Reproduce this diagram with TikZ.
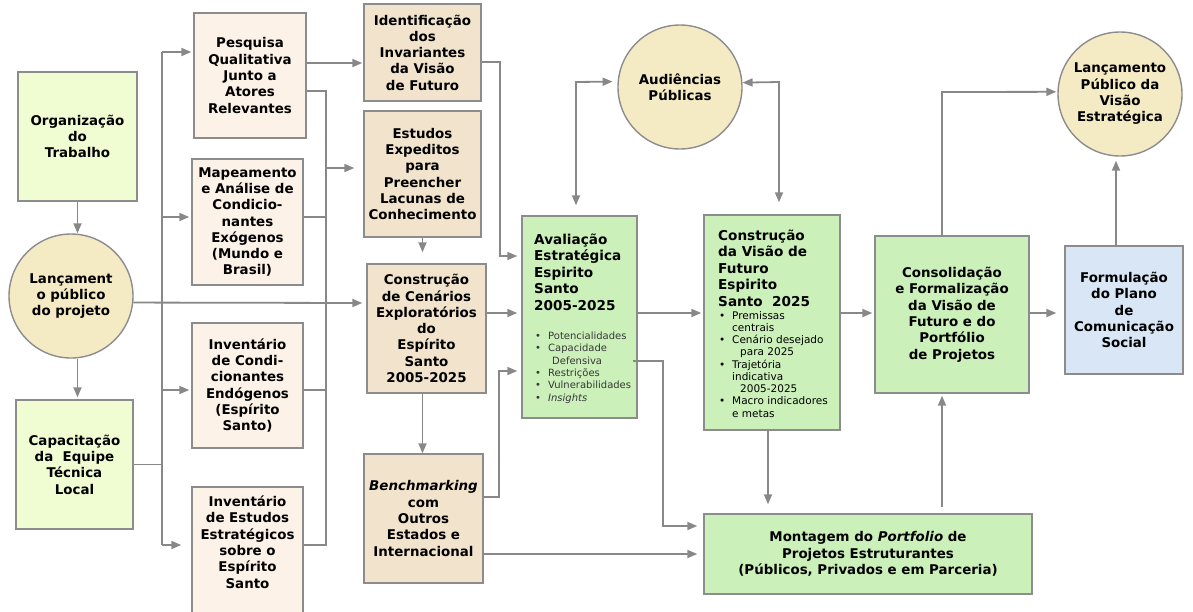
\documentclass[tikz,border=0pt]{standalone}
\usepackage{fontspec}
\setmainfont{DejaVu Sans}
\usetikzlibrary{arrows.meta,calc}

\definecolor{edge}{RGB}{140,140,140}
\definecolor{wire}{RGB}{136,136,136}
\definecolor{limefill}{RGB}{240,253,210}
\definecolor{peachfill}{RGB}{253,242,232}
\definecolor{tanfill}{RGB}{242,228,204}
\definecolor{creamfill}{RGB}{244,234,196}
\definecolor{greenfill}{RGB}{204,240,186}
\definecolor{bluefill}{RGB}{216,230,245}
\definecolor{listgray}{RGB}{55,55,55}

\newcommand{\bul}{\makebox[14pt][l]{\hspace{1pt}•}}
\newcommand{\nobul}{\hspace{14pt}}

\tikzset{
  box/.style={draw=edge, line width=1.4pt, inner sep=0pt, align=center,
    font=\bfseries\fontsize{13.4}{16.3}\selectfont},
  disc/.style={circle, draw=edge, line width=1.4pt, fill=creamfill,
    inner sep=0pt, minimum size=124pt, align=center,
    font=\bfseries\fontsize{13.4}{16.3}\selectfont},
  headtext/.style={anchor=north west, inner sep=0pt, align=left,
    font=\bfseries\fontsize{13.6}{16.5}\selectfont},
  listtext/.style={anchor=north west, inner sep=0pt, align=left},
  wireline/.style={draw=wire, line width=1.8pt},
  arr/.style={wireline, -{Triangle[length=10pt,width=8pt]}},
  biarr/.style={wireline, {Triangle[length=10pt,width=8pt]}-{Triangle[length=10pt,width=8pt]}},
}

\begin{document}
\begin{tikzpicture}[x=1pt,y=-1pt]
\useasboundingbox (0,0) rectangle (1193,611);

% ---------- first column ----------
\node[box, fill=limefill, minimum width=119pt, minimum height=129pt] (org) at (77.5,136.5)
  {Organização\\do\\Trabalho};
\node[disc] (lanc) at (71,296) {Lançament\\o público\\do projeto};
\node[box, fill=limefill, minimum width=117pt, minimum height=129pt] (cap) at (74.5,464.5)
  {Capacitação\\da~ Equipe\\Técnica\\Local};

% ---------- diagnostic studies ----------
\node[box, fill=peachfill, minimum width=112pt, minimum height=125pt] (pesq) at (250,75.5)
  {Pesquisa\\Qualitativa\\Junto a\\Atores\\Relevantes};
\node[box, fill=peachfill, minimum width=111pt, minimum height=126pt] (mapa) at (247.5,222)
  {Mapeamento\\e Análise de\\Condicio-\\nantes\\Exógenos\\(Mundo e\\Brasil)};
\node[box, fill=peachfill, minimum width=111pt, minimum height=125pt] (invend) at (247.5,385.5)
  {Inventário\\de Condi-\\cionantes\\Endógenos\\(Espírito\\Santo)};
\node[box, fill=peachfill, minimum width=111pt, minimum height=140pt] (invest) at (247.5,557) {};
\node[box, draw=none] (investtxt) at (247.5,542)
  {Inventário\\de Estudos\\Estratégicos\\sobre o\\Espírito\\Santo};

% ---------- synthesis studies ----------
\node[box, fill=tanfill, minimum width=117pt, minimum height=97pt] (ident) at (422.5,52.5)
  {Identificação\\dos\\Invariantes\\da Visão\\de Futuro};
\node[box, fill=tanfill, minimum width=117pt, minimum height=126pt] (estud) at (422.5,174)
  {Estudos\\Expeditos\\para\\Preencher\\Lacunas de\\Conhecimento};
\node[box, fill=tanfill, minimum width=119pt, minimum height=129pt] (cen) at (426.5,328.5)
  {Construção\\de Cenários\\Exploratórios\\do\\Espírito\\Santo\\2005-2025};
\node[box, fill=tanfill, minimum width=119pt, minimum height=129pt] (bench) at (423.5,518.5)
  {\textit{Benchmarking}\\com\\Outros\\Estados e\\Internacional};

% ---------- strategic evaluation ----------
\node[box, fill=greenfill, minimum width=115pt, minimum height=202pt] (aval) at (579.5,317) {};
\node[headtext] (avalhead) at (534,233.5)
  {Avaliação\\Estratégica\\Espirito\\Santo\\2005-2025};
\node[listtext, text=listgray, font=\fontsize{10}{12.4}\selectfont] (avallist) at (534,331.5)
  {\bul Potencialidades\\\bul Capacidade\\\nobul\hspace{4pt}Defensiva\\\bul Restrições\\
   \bul Vulnerabilidades\\\bul \textit{Insights}};

\node[disc] (aud) at (680,87) {Audiências\\Públicas};

% ---------- vision of the future ----------
\node[box, fill=greenfill, minimum width=136pt, minimum height=215pt] (constr) at (772,322.5) {};
\node[headtext] (constrhead) at (718,229.5)
  {Construção\\da Visão de\\Futuro\\Espirito\\Santo~~2025};
\node[listtext, font=\fontsize{10.5}{12.25}\selectfont] (constrlist) at (718,311)
  {\bul Premissas\\\nobul centrais\\\bul Cenário desejado\\\nobul\hspace{8pt}para 2025\\
   \bul Trajetória\\\nobul indicativa\\\nobul\hspace{8pt}2005-2025\\
   \bul Macro indicadores\\\nobul e metas};

\node[box, fill=greenfill, minimum width=328pt, minimum height=80pt] (mont) at (868,554)
  {Montagem do \textit{Portfolio} de\\Projetos Estruturantes\\(Públicos, Privados e em Parceria)};

\node[box, fill=greenfill, minimum width=154pt, minimum height=157pt] (consol) at (952,314.5)
  {Consolidação\\e Formalização\\da Visão de\\Futuro e do\\Portfólio\\de Projetos};
\node[box, fill=bluefill, minimum width=118pt, minimum height=128pt] (form) at (1124,310)
  {Formulação\\do Plano\\de\\Comunicação\\Social};
\node[disc] (lpub) at (1120,94) {Lançamento\\Público da\\Visão\\Estratégica};

% ---------- routing points ----------
\coordinate (bl1) at (162,52);
\coordinate (bl2) at (162,217);
\coordinate (bl3) at (162,390);
\coordinate (bl4) at (162,545);
\coordinate (br1) at (326,91);
\coordinate (br2) at (326,217);
\coordinate (br3) at (326,390);
\coordinate (br4) at (326,545);
\coordinate (brout) at (326,168);
\coordinate (pqlink) at (306,63);
\coordinate (lanclink) at (300,303);
\coordinate (cenlink) at (500,313);
\coordinate (idbend) at (500,62);
\coordinate (idin) at (500,256);
\coordinate (bnbend) at (499,497);
\coordinate (bnin) at (499,371);
\coordinate (bnmont) at (600,554);
\coordinate (dfout) at (633,361);
\coordinate (dfbend) at (663,361);
\coordinate (dfin) at (663,526);
\coordinate (avlink) at (660,313);
\coordinate (audL) at (576,82);
\coordinate (audR) at (779,82);
\coordinate (cmx) at (768,430);
\coordinate (cslink) at (860,313);
\coordinate (mcx) at (942,507);
\coordinate (clx) at (942,92);
\coordinate (cflink) at (1040,313);
\coordinate (flx) at (1116,246);

% ---------- connectors ----------
\draw[arr] (org.south) -- (org.south |- lanc.north);
\draw[arr, shorten >=2pt] (org.south |- lanc.south) -- (org.south |- cap.north);

\draw[wireline] (bl1) -- (bl4);
\draw[wireline] (cap.east) -- (cap.east -| bl1);
\draw[arr, shorten >=2pt] (bl1) -- (bl1 -| pesq.west);
\draw[arr, shorten >=2pt] (bl2) -- (bl2 -| mapa.west);
\draw[arr, shorten >=2pt] (bl3) -- (bl3 -| invend.west);
\draw[arr, shorten >=10pt] (bl4) -- (bl4 -| invest.west);

\draw[wireline] (br1 -| pesq.east) -- (br1) -- (br4) -- (br4 -| invest.east);
\draw[wireline] (br2 -| mapa.east) -- (br2);
\draw[wireline] (br3 -| invend.east) -- (br3);
\draw[arr, shorten >=9pt] (brout) -- (brout -| estud.west);
\draw[arr, shorten >=1pt] (pqlink -| pesq.east) -- (pqlink -| ident.west);

\draw[arr, shorten >=4pt] (lanc.-6.5) -- (lanclink -| cen.west);
\draw[arr, shorten >=11pt] (estud.south) -- (estud.south |- cen.north);
\draw[arr] (estud.south |- cen.south) -- (estud.south |- bench.north);

\draw[arr, shorten >=4pt] (cenlink -| cen.east) -- (cenlink -| aval.west);
\draw[arr, shorten >=4pt] (idbend -| ident.east) -- (idbend) -- (idin) -- (idin -| aval.west);
\draw[arr, shorten >=4pt] (bnbend -| bench.east) -- (bnbend) -- (bnin) -- (bnin -| aval.west);
\draw[arr, shorten >=6pt] (bnmont -| bench.east) -- (bnmont -| mont.west);
\draw[arr, shorten >=6pt] (dfout) -- (dfbend) -- (dfin) -- (dfin -| mont.west);
\draw[arr, shorten >=2pt] (avlink -| aval.east) -- (avlink -| constr.west);

\draw[biarr, shorten <=10pt, shorten >=5pt] (audL |- aval.north) -- (audL) -- (aud.175.4);
\draw[biarr, shorten <=12pt] (audR |- constr.north) -- (audR) -- (aud.4.6);

\draw[arr, shorten >=9pt] (cmx) -- (cmx |- mont.north);
\draw[arr, shorten >=2pt] (cslink -| constr.east) -- (cslink -| consol.west);
\draw[arr, shorten >=2pt] (mcx) -- (mcx |- consol.south);
\draw[arr, shorten >=1pt] (clx |- consol.north) -- (clx) -- (lpub.178.2);
\draw[arr, shorten >=8pt] (cflink -| consol.east) -- (cflink -| form.west);
\draw[arr, shorten >=4pt] (flx) -- (flx |- lpub.south);
\end{tikzpicture}
\end{document}
